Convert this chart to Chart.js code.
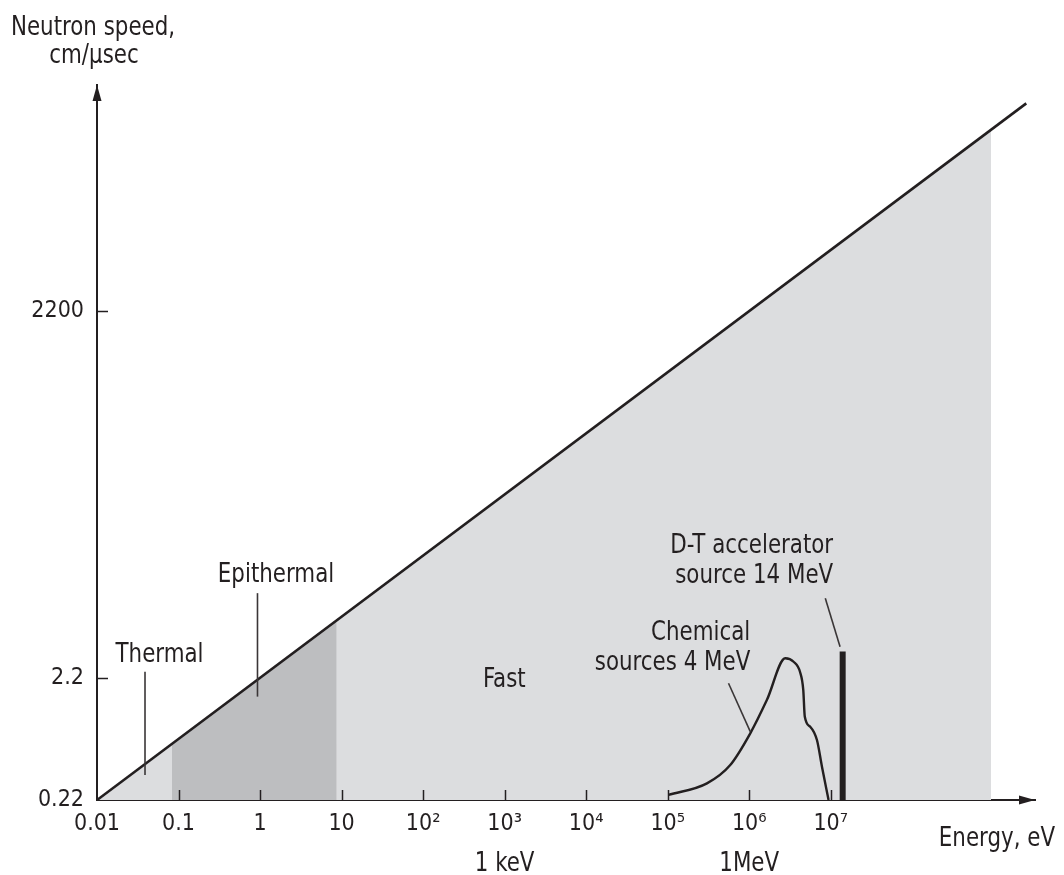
<!DOCTYPE html>
<html>
<head>
<meta charset="utf-8">
<title>Neutron speed vs energy</title>
<script src="https://cdn.jsdelivr.net/npm/chart.js@4.4.1/dist/chart.umd.min.js"></script>
<style>
  html, body { margin: 0; padding: 0; background: #fff; }
  canvas { display: block; }
</style>
</head>
<body>
<canvas id="c" width="1064" height="875"></canvas>
<script>
// ---- Axis ticks ----
const energyTicks = [0.01, 0.1, 1, 10, 1e2, 1e3, 1e4, 1e5, 1e6, 1e7];
const energyTickLabels = ['0.01', '0.1', '1', '10', '10²', '10³', '10⁴', '10⁵', '10⁶', '10⁷'];
const speedTicks = [0.22, 2.2, 2200];
const speedTickLabels = ['0.22', '2.2', '2200'];

// ---- Speed vs energy line (eV, cm/µs) ----
const lineEnergy = [0.01, 2.5e9];
const lineSpeed = [0.22, 1.09e5];

// ---- Shaded regions under the line ----
const allBandEnergy = [0.01, 9.25e8];
const allBandSpeed = [0.22, 6.69e4];
const epiBandEnergy = [0.083, 8.7];
const epiBandSpeed = [0.634, 6.49];

// ---- Chemical source spectrum ----
const chemEnergy = [1.02e5, 3.03e5, 5.85e5, 1.03e6, 1.65e6, 2.77e6, 3.5e6, 4.2e6, 4.6e6, 4.8e6, 5.6e6, 6.77e6, 7.8e6, 9.4e6];
const chemSpeed = [0.242, 0.301, 0.425, 0.772, 1.45, 3.17, 2.97, 2.45, 1.75, 1.06, 0.874, 0.68, 0.412, 0.22];

// ---- D-T accelerator line source ----
const dtEnergy = [1.4e7, 1.4e7];
const dtSpeed = [0.22, 3.6];

// ---- Unit marks below the energy axis ----
const unitEnergy = [1e3, 1e6];
const unitLabels = ['1 keV', '1MeV'];

// ---- Axis ranges ----
const energyMin = 0.01, energyMax = 3.2e9;
const speedMin = 0.22, speedMax = 1.54e5;

const INK = '#231f20';
const LIGHT = '#dcdddf';
const DARK = '#bdbec0';
const FONT = "'DejaVu Sans Condensed', 'DejaVu Sans', sans-serif";
const NARROW = 0.88;   // horizontal squeeze for the label text

const pts = (xs, ys) => xs.map((x, i) => ({ x: x, y: ys[i] }));

// Region and source labels, placed in energy/speed units
const notes = [
  { lines: ['Thermal'], e: 0.0585, v: 2.97, align: 'center' },
  { lines: ['Epithermal'], e: 1.57, v: 13.3, align: 'center' },
  { lines: ['Fast'], e: 990, v: 1.86, align: 'center' },
  { lines: ['Chemical', 'sources 4 MeV'], e: 1.03e6, v: 4.47, align: 'right' },
  { lines: ['D-T accelerator', 'source 14 MeV'], e: 1.07e7, v: 22.9, align: 'right' }
];
const leaders = [
  { e1: 0.0388, v1: 2.46, e2: 0.0388, v2: 0.352 },
  { e1: 0.93, v1: 10.8, e2: 0.93, v2: 1.54 },
  { e1: 5.57e5, v1: 1.98, e2: 1.03e6, v2: 0.796 },
  { e1: 8.57e6, v1: 9.81, e2: 1.3e7, v2: 3.94 }
];

function squeezedText(ctx, s, x, y, align) {
  ctx.save();
  ctx.translate(x, y);
  ctx.scale(NARROW, 1);
  ctx.textAlign = align;
  ctx.fillText(s, 0, 0);
  ctx.restore();
}

const decorations = {
  id: 'decorations',
  afterDraw(chart) {
    const ctx = chart.ctx;
    const xs = chart.scales.x, ys = chart.scales.y;
    const a = chart.chartArea;
    ctx.save();
    ctx.strokeStyle = INK;
    ctx.fillStyle = INK;

    // inward tick marks
    ctx.lineWidth = 1.5;
    xs.ticks.forEach((t, i) => {
      if (i === 0) return;
      const px = Math.round(xs.getPixelForValue(t.value)) + 0.5;
      ctx.beginPath(); ctx.moveTo(px, a.bottom); ctx.lineTo(px, a.bottom - 10); ctx.stroke();
    });
    ys.ticks.forEach((t, i) => {
      if (i === 0) return;
      const py = Math.round(ys.getPixelForValue(t.value)) + 0.5;
      ctx.beginPath(); ctx.moveTo(a.left, py); ctx.lineTo(a.left + 11, py); ctx.stroke();
    });

    // arrow heads on both axes
    ctx.beginPath();
    ctx.moveTo(a.right, a.bottom);
    ctx.lineTo(a.right - 16, a.bottom - 4.5);
    ctx.lineTo(a.right - 16, a.bottom + 4.5);
    ctx.closePath(); ctx.fill();
    ctx.beginPath();
    ctx.moveTo(a.left, a.top);
    ctx.lineTo(a.left - 4.5, a.top + 16);
    ctx.lineTo(a.left + 4.5, a.top + 16);
    ctx.closePath(); ctx.fill();

    // leader lines
    ctx.lineWidth = 1.6;
    ctx.strokeStyle = '#3a3637';
    leaders.forEach(l => {
      ctx.beginPath();
      ctx.moveTo(xs.getPixelForValue(l.e1), ys.getPixelForValue(l.v1));
      ctx.lineTo(xs.getPixelForValue(l.e2), ys.getPixelForValue(l.v2));
      ctx.stroke();
    });

    // region / source labels
    ctx.font = '27px ' + FONT;
    ctx.textBaseline = 'alphabetic';
    notes.forEach(n => {
      const px = xs.getPixelForValue(n.e);
      const py = ys.getPixelForValue(n.v);
      n.lines.forEach((s, i) => squeezedText(ctx, s, px, py + i * 29.5, n.align));
    });

    // unit marks under energy ticks
    unitEnergy.forEach((e, i) => {
      squeezedText(ctx, unitLabels[i], xs.getPixelForValue(e), a.bottom + 71, 'center');
    });

    // axis titles
    squeezedText(ctx, 'Energy, eV', a.right + 20, a.bottom + 46, 'right');
    squeezedText(ctx, 'Neutron speed,', a.left - 4, a.top - 50, 'center');
    squeezedText(ctx, 'cm/µsec', a.left - 3, a.top - 22, 'center');

    ctx.restore();
  }
};

new Chart(document.getElementById('c'), {
  type: 'line',
  data: {
    datasets: [
      { data: pts(lineEnergy, lineSpeed), borderColor: INK, borderWidth: 2.6, pointRadius: 0, fill: false, order: 1 },
      { data: pts(dtEnergy, dtSpeed), borderColor: INK, borderWidth: 6, borderCapStyle: 'butt', pointRadius: 0, fill: false, order: 2 },
      { data: pts(chemEnergy, chemSpeed), borderColor: INK, borderWidth: 2.4, pointRadius: 0, fill: false,
        cubicInterpolationMode: 'monotone', order: 3 },
      { data: pts(epiBandEnergy, epiBandSpeed), borderWidth: 0, backgroundColor: DARK, pointRadius: 0, fill: 'start', order: 4 },
      { data: pts(allBandEnergy, allBandSpeed), borderWidth: 0, backgroundColor: LIGHT, pointRadius: 0, fill: 'start', order: 5 }
    ]
  },
  options: {
    responsive: false,
    animation: false,
    events: [],
    layout: { padding: { top: 85, right: 29, left: 0, bottom: 0 } },
    plugins: { legend: { display: false }, tooltip: { enabled: false }, title: { display: false } },
    scales: {
      x: {
        type: 'logarithmic',
        min: energyMin, max: energyMax,
        grid: { display: false, drawTicks: false },
        border: { display: true, color: INK, width: 2 },
        afterBuildTicks: s => { s.ticks = energyTicks.map(v => ({ value: v })); },
        afterFit: s => { s.height = 75; },
        ticks: {
          autoSkip: false, maxRotation: 0, padding: 10, color: INK,
          font: { family: FONT, size: 23 },
          callback: (v, i) => energyTickLabels[i]
        }
      },
      y: {
        type: 'logarithmic',
        min: speedMin, max: speedMax,
        grid: { display: false, drawTicks: false },
        border: { display: true, color: INK, width: 2 },
        afterBuildTicks: s => { s.ticks = speedTicks.map(v => ({ value: v })); },
        afterFit: s => { s.width = 97; },
        ticks: {
          autoSkip: false, padding: 13, color: INK,
          font: { family: FONT, size: 23 },
          callback: (v, i) => speedTickLabels[i]
        }
      }
    }
  },
  plugins: [decorations]
});
</script>
</body>
</html>
